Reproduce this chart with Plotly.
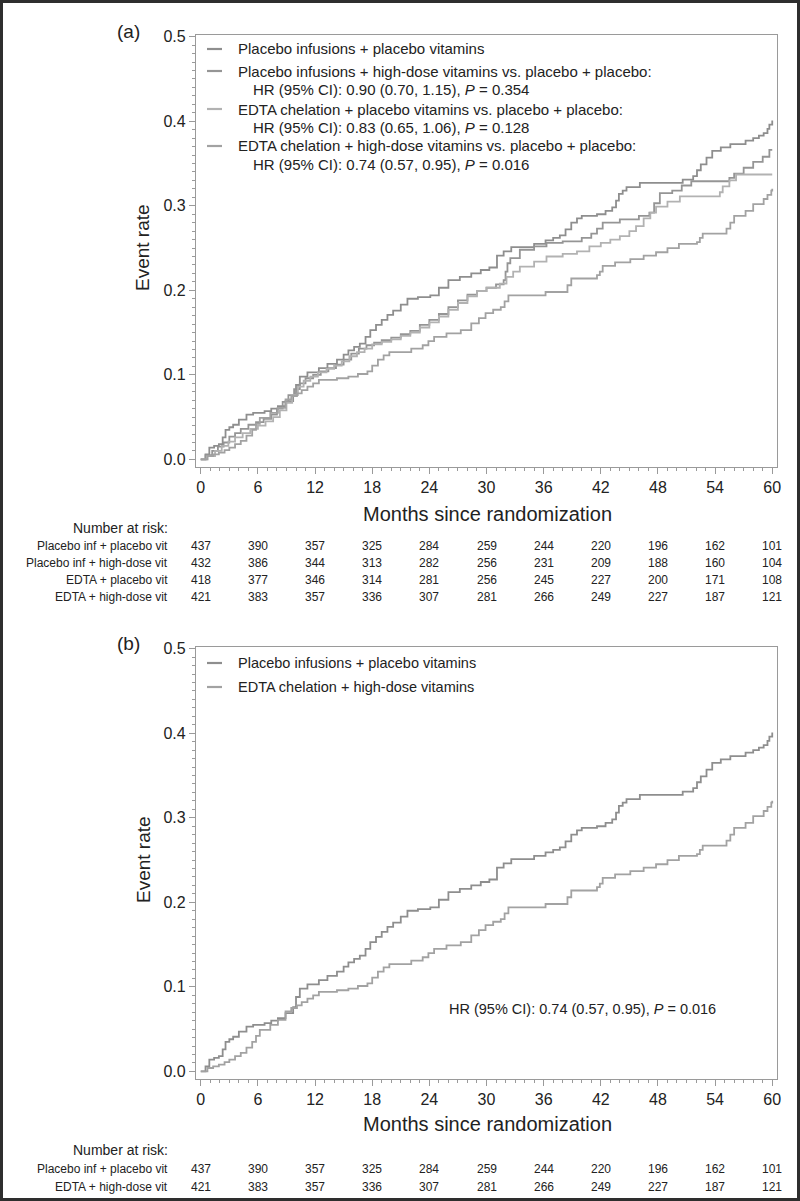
import plotly.graph_objects as go

W, H = 800, 1201

# ---------------- data ----------------
months = [0, 6, 12, 18, 24, 30, 36, 42, 48, 54, 60]

# Placebo infusions + placebo vitamins
pp_t = [0, 0.5, 0.9, 1.4, 1.9, 2.3, 2.6, 3.0, 3.4, 4.0, 4.8, 5.5, 6.7, 7.4, 8.1, 8.9, 9.7, 10.0, 10.4, 11.2,
        12.4, 13.3, 14.3, 15.0, 15.5, 16.1, 16.7, 17.3, 17.8, 18.4, 19.0, 19.6, 20.2, 21.0, 21.7, 22.8, 24.1,
        25.0, 26.0, 27.2, 28.4, 29.4, 30.3, 31.1, 31.8, 32.6, 35.0, 36.2, 37.0, 37.7, 38.3, 38.9, 39.5, 40.0,
        41.6, 42.5, 43.2, 43.6, 43.9, 44.3, 44.7, 46.1, 50.6, 51.7, 52.1, 52.5, 53.1, 53.7, 54.6, 55.6, 57.2,
        58.0, 58.6, 59.1, 59.5, 59.7, 60.0]
pp_v = [0, 0.006, 0.014, 0.016, 0.018, 0.026, 0.035, 0.038, 0.041, 0.047, 0.053, 0.055, 0.057, 0.060, 0.063,
        0.069, 0.076, 0.088, 0.098, 0.103, 0.108, 0.113, 0.118, 0.124, 0.129, 0.133, 0.137, 0.145, 0.153, 0.159,
        0.165, 0.171, 0.176, 0.183, 0.190, 0.192, 0.194, 0.203, 0.212, 0.216, 0.220, 0.224, 0.227, 0.241, 0.246,
        0.251, 0.255, 0.259, 0.262, 0.265, 0.272, 0.280, 0.285, 0.288, 0.290, 0.294, 0.298, 0.306, 0.314, 0.318,
        0.322, 0.327, 0.331, 0.335, 0.342, 0.349, 0.357, 0.365, 0.369, 0.373, 0.377, 0.380, 0.383, 0.386, 0.391,
        0.396, 0.401]

# Placebo infusions + high-dose vitamins
ph_t = [0, 0.5, 1.2, 1.8, 2.4, 3.0, 3.6, 4.2, 5.0, 5.8, 6.6, 7.4, 8.0, 8.6, 9.2, 9.8, 10.4, 11.0, 11.8, 12.6,
        13.4, 14.2, 15.0, 15.8, 16.6, 17.4, 18.2, 19.0, 20.0, 21.0, 22.0, 23.0, 24.0, 25.0, 26.0, 27.0, 28.0,
        29.0, 30.0, 31.0, 31.8, 32.0, 32.2, 32.5, 33.5, 35.0, 36.3, 38.0, 40.0, 41.0, 41.6, 42.2, 44.0, 46.0,
        47.1, 47.6, 48.2, 49.5, 50.5, 51.5, 55.5, 56.0, 57.0, 58.0, 59.0, 59.7, 60.0]
ph_v = [0, 0.005, 0.010, 0.015, 0.020, 0.027, 0.031, 0.036, 0.041, 0.044, 0.048, 0.053, 0.060, 0.068, 0.076,
        0.083, 0.090, 0.096, 0.100, 0.104, 0.108, 0.112, 0.118, 0.125, 0.131, 0.135, 0.138, 0.141, 0.144, 0.148,
        0.152, 0.159, 0.165, 0.172, 0.180, 0.188, 0.195, 0.199, 0.203, 0.207, 0.212, 0.222, 0.232, 0.238, 0.248,
        0.252, 0.256, 0.258, 0.262, 0.267, 0.273, 0.280, 0.284, 0.288, 0.292, 0.303, 0.315, 0.318, 0.324, 0.329,
        0.333, 0.338, 0.345, 0.352, 0.358, 0.366, 0.366]

# EDTA chelation + placebo vitamins
ep_t = [0, 0.7, 1.5, 2.2, 2.9, 3.6, 4.4, 5.2, 6.0, 6.8, 7.6, 8.3, 9.0, 9.6, 10.2, 10.8, 11.5, 12.3, 13.2, 14.0,
        14.8, 15.6, 16.4, 17.2, 18.0, 19.0, 20.0, 21.0, 22.0, 23.0, 24.0, 25.0, 26.0, 27.0, 28.0, 29.0, 30.0,
        31.4, 32.1, 32.8, 33.5, 35.0, 36.3, 38.0, 39.5, 40.8, 42.0, 43.0, 44.0, 45.0, 45.7, 46.5, 47.2, 47.8,
        49.0, 50.3, 54.5, 54.8, 55.5, 56.2, 60.0]
ep_v = [0, 0.004, 0.010, 0.016, 0.021, 0.026, 0.031, 0.036, 0.040, 0.045, 0.050, 0.058, 0.067, 0.076, 0.086,
        0.093, 0.098, 0.103, 0.107, 0.111, 0.116, 0.122, 0.127, 0.131, 0.136, 0.139, 0.142, 0.146, 0.150, 0.156,
        0.162, 0.169, 0.177, 0.185, 0.193, 0.199, 0.203, 0.208, 0.216, 0.222, 0.228, 0.234, 0.240, 0.243, 0.246,
        0.252, 0.256, 0.260, 0.264, 0.270, 0.276, 0.285, 0.292, 0.299, 0.305, 0.311, 0.316, 0.323, 0.330, 0.337,
        0.337]

# EDTA chelation + high-dose vitamins
eh_t = [0, 0.7, 1.3, 1.9, 2.5, 3.0, 3.6, 4.2, 4.8, 5.4, 5.8, 6.2, 7.3, 8.1, 8.9, 9.5, 10.1, 10.6, 11.2, 11.8,
        12.4, 14.3, 15.5, 16.5, 17.5, 18.0, 18.6, 19.2, 19.8, 22.1, 23.3, 23.9, 24.5, 25.8, 27.3, 28.4, 29.2,
        29.9, 30.7, 31.5, 31.9, 32.3, 36.2, 38.5, 38.9, 41.6, 41.9, 42.2, 43.5, 45.1, 46.5, 47.8, 49.0, 50.2,
        52.1, 52.4, 52.7, 55.2, 55.6, 56.0, 57.2, 58.0, 59.1, 59.5, 59.9, 60.0]
eh_v = [0, 0.004, 0.006, 0.008, 0.011, 0.014, 0.018, 0.022, 0.028, 0.035, 0.042, 0.049, 0.055, 0.061, 0.071,
        0.075, 0.078, 0.082, 0.086, 0.090, 0.094, 0.096, 0.098, 0.101, 0.104, 0.111, 0.118, 0.123, 0.127, 0.131,
        0.135, 0.140, 0.145, 0.149, 0.153, 0.161, 0.167, 0.173, 0.177, 0.180, 0.187, 0.194, 0.198, 0.206, 0.214,
        0.218, 0.222, 0.229, 0.233, 0.237, 0.241, 0.245, 0.250, 0.255, 0.257, 0.262, 0.267, 0.273, 0.280, 0.288,
        0.294, 0.302, 0.308, 0.313, 0.318, 0.320]

risk_labels_a = ["Placebo inf + placebo vit", "Placebo inf + high-dose vit", "EDTA + placebo vit", "EDTA + high-dose vit"]
risk_a = [
    [437, 390, 357, 325, 284, 259, 244, 220, 196, 162, 101],
    [432, 386, 344, 313, 282, 256, 231, 209, 188, 160, 104],
    [418, 377, 346, 314, 281, 256, 245, 227, 200, 171, 108],
    [421, 383, 357, 336, 307, 281, 266, 249, 227, 187, 121],
]
risk_labels_b = ["Placebo inf + placebo vit", "EDTA + high-dose vit"]
risk_b = [risk_a[0], risk_a[3]]

legend_a = [
    ["Placebo infusions + placebo vitamins"],
    ["Placebo infusions + high-dose vitamins vs. placebo + placebo:",
     "HR (95% CI): 0.90 (0.70, 1.15), <i>P</i> = 0.354"],
    ["EDTA chelation + placebo vitamins vs. placebo + placebo:",
     "HR (95% CI): 0.83 (0.65, 1.06), <i>P</i> = 0.128"],
    ["EDTA chelation + high-dose vitamins vs. placebo + placebo:",
     "HR (95% CI): 0.74 (0.57, 0.95), <i>P</i> = 0.016"],
]
legend_b = ["Placebo infusions + placebo vitamins", "EDTA chelation + high-dose vitamins"]
hr_b = "HR (95% CI): 0.74 (0.57, 0.95), <i>P</i> = 0.016"

# ---------------- styling ----------------
FONT = "Liberation Sans, Arial, Helvetica, sans-serif"
TXT = "#222222"
AX = "#9a9a9a"
c_pp, c_ph, c_ep, c_eh = "#8e8e8e", "#959595", "#b2b2b2", "#a2a2a2"
LW = 1.8


def px(x):
    return x / W


def py(y):
    return 1 - y / H


fig = go.Figure()

series_a = [(pp_t, pp_v, c_pp), (ph_t, ph_v, c_ph), (ep_t, ep_v, c_ep), (eh_t, eh_v, c_eh)]
for t, v, c in series_a:
    fig.add_trace(go.Scatter(x=t, y=v, mode="lines", line=dict(color=c, width=LW, shape="hv"),
                             xaxis="x", yaxis="y", showlegend=False, hoverinfo="skip"))
for t, v, c in [(pp_t, pp_v, c_pp), (eh_t, eh_v, c_eh)]:
    fig.add_trace(go.Scatter(x=t, y=v, mode="lines", line=dict(color=c, width=LW, shape="hv"),
                             xaxis="x2", yaxis="y2", showlegend=False, hoverinfo="skip"))

OFF = 612  # vertical offset of panel (b)


def xaxis(anchor):
    return dict(anchor=anchor, domain=[px(196), px(777)], range=[-0.5, 60.5],
                tickmode="array", tickvals=months, ticktext=[str(m) for m in months],
                showline=True, linecolor=AX, linewidth=1.2, mirror=True,
                ticks="outside", ticklen=6, tickwidth=1, tickcolor=AX,
                showgrid=False, zeroline=False,
                tickfont=dict(family=FONT, size=16, color=TXT),
                minor=dict(ticks="outside", ticklen=3, tick0=0, dtick=1, tickcolor=AX, showgrid=False))


def yaxis(anchor, top, bottom):
    return dict(anchor=anchor, domain=[py(bottom), py(top)], range=[-0.009, 0.502],
                tickmode="array", tickvals=[0, 0.1, 0.2, 0.3, 0.4, 0.5],
                ticktext=["0.0", "0.1", "0.2", "0.3", "0.4", "0.5"],
                showline=True, linecolor=AX, linewidth=1.2, mirror=True,
                ticks="outside", ticklen=6, tickwidth=1, tickcolor=AX,
                showgrid=False, zeroline=False,
                tickfont=dict(family=FONT, size=16, color=TXT),
                minor=dict(ticks="outside", ticklen=3, tick0=0, dtick=0.01, tickcolor=AX, showgrid=False))


annotations = []
shapes = []


def text(x, y, s, size=15, xanchor="left", xref="paper", angle=0):
    annotations.append(dict(x=x if xref != "paper" else px(x), y=py(y), xref=xref, yref="paper", text=s,
                            showarrow=False, xanchor=xanchor, yanchor="middle", textangle=angle,
                            font=dict(family=FONT, size=size, color=TXT)))


def legend_line(y, color):
    shapes.append(dict(type="line", xref="paper", yref="paper", x0=px(207), x1=px(222), y0=py(y), y1=py(y),
                       line=dict(color=color, width=2.2)))


# ---- panel (a) ----
text(128, 31, "(a)", size=19, xanchor="center")
text(143, 248, "Event rate", size=19, xanchor="center", angle=-90)
text(487, 514, "Months since randomization", size=20, xanchor="center")
leg_y = [[49], [71, 90], [109, 127], [146, 164]]
leg_cols = [c_pp, c_ph, c_ep, c_eh]
for lines, ys, c in zip(legend_a, leg_y, leg_cols):
    legend_line(ys[0], c)
    text(236, ys[0], lines[0], size=15)
    if len(lines) > 1:
        text(251, ys[1], lines[1], size=15)

text(170, 528, "Number at risk:", size=14, xanchor="right")
row_y_a = [546, 563, 580, 597]
for lab, vals, yy in zip(risk_labels_a, risk_a, row_y_a):
    text(170, yy, lab, size=12, xanchor="right")
    for m, n in zip(months, vals):
        text(m, yy, str(n), size=12, xanchor="center", xref="x")

# ---- panel (b) ----
text(128, 31 + OFF, "(b)", size=19, xanchor="center")
text(143, 248 + OFF, "Event rate", size=19, xanchor="center", angle=-90)
text(487, 1124, "Months since randomization", size=20, xanchor="center")
for s, yy, c in zip(legend_b, [663, 687], [c_pp, c_eh]):
    legend_line(yy, c)
    text(236, yy, s, size=14.5)
text(718, 1009, hr_b, size=14.5, xanchor="right")
text(170, 1150, "Number at risk:", size=14, xanchor="right")
for lab, vals, yy in zip(risk_labels_b, risk_b, [1169, 1187]):
    text(170, yy, lab, size=12, xanchor="right")
    for m, n in zip(months, vals):
        text(m, yy, str(n), size=12, xanchor="center", xref="x2")

# outer frame
shapes.append(dict(type="rect", xref="paper", yref="paper", x0=px(1.5), x1=px(798.5), y0=py(1199.5), y1=py(1.5),
                   line=dict(color="#2e2e2e", width=3)))

fig.update_layout(
    width=W, height=H,
    margin=dict(l=0, r=0, t=0, b=0, autoexpand=False),
    paper_bgcolor="white", plot_bgcolor="white",
    xaxis=xaxis("y"), yaxis=yaxis("x", 35, 467),
    xaxis2=xaxis("y2"), yaxis2=yaxis("x2", 35 + OFF, 467 + OFF),
    annotations=annotations, shapes=shapes,
    showlegend=False,
)

fig.write_html("out.html", config={"displayModeBar": False},
               post_script="document.body.style.margin='0';document.body.style.padding='0';")
